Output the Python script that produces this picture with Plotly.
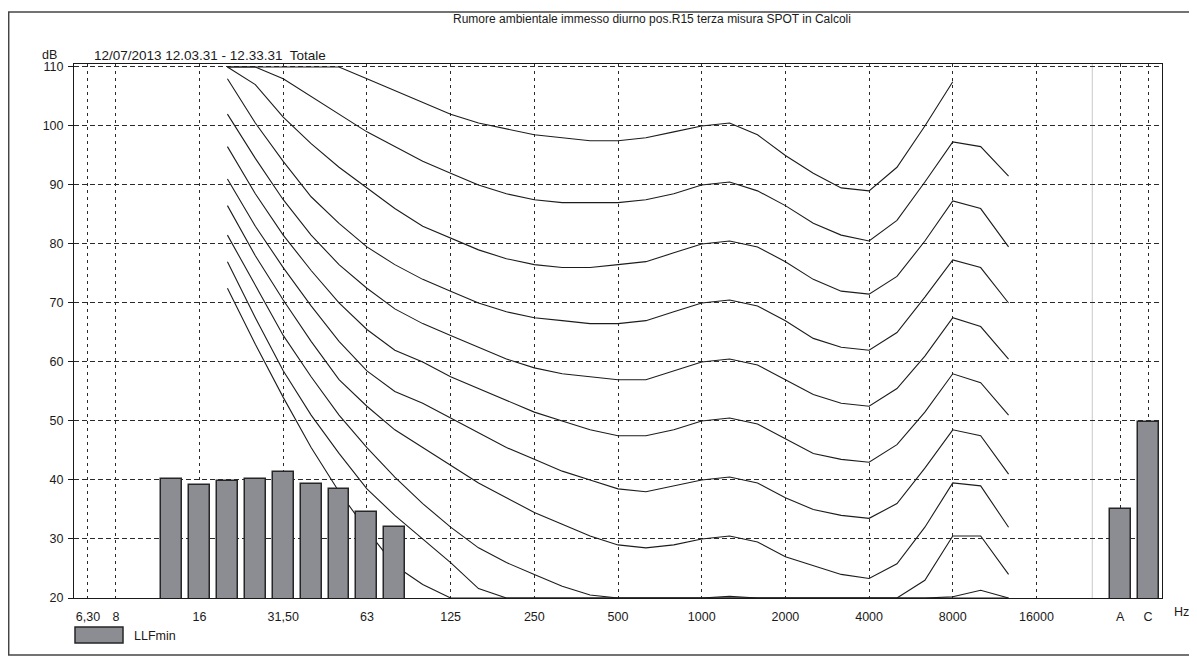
import plotly.graph_objects as go

# ---------------- data ----------------
# third-octave band centres (Hz); x position on the chart = index in this list
bands = [6.3, 8, 10, 12.5, 16, 20, 25, 31.5, 40, 50, 63, 80, 100, 125, 160, 200,
         250, 315, 400, 500, 630, 800, 1000, 1250, 1600, 2000, 2500, 3150, 4000,
         5000, 6300, 8000, 10000, 12500, 16000, 20000]
slot_A = 37
slot_C = 38
separator = 36

tick_bands = [6.3, 8, 16, 31.5, 63, 125, 250, 500, 1000, 2000, 4000, 8000, 16000]
tick_text = ["6,30", "8", "16", "31,50", "63", "125", "250", "500", "1000",
             "2000", "4000", "8000", "16000"]

# LLFmin spectrum (dB)
llf_bands = [12.5, 16, 20, 25, 31.5, 40, 50, 63, 80]
llf_values = [40.2, 39.1, 39.8, 40.1, 41.3, 39.3, 38.4, 34.5, 32.1]
level_A = 35.0
level_C = 49.9

# equal-loudness contours (dB), bands 20 Hz .. 12500 Hz
curve_bands = [20, 25, 31.5, 40, 50, 63, 80, 100, 125, 160, 200, 250, 315, 400,
               500, 630, 800, 1000, 1250, 1600, 2000, 2500, 3150, 4000, 5000,
               6300, 8000, 10000, 12500]
phon_0 = [72.5, 63, 54, 45.5, 38, 31.5, 25.5, 22.3, 19, 16, 13, 11, 9, 7.5, 6, 5, 4.5,
          4.2, 3.7, 2.6, 1, -1.2, -3.6, -3.9, -1.1, 6.6, 15.3, 16.4, 11.6]
phon_10 = [77, 67.5, 58.5, 51, 44.5, 38.5, 34, 30, 26, 21.6, 18, 16, 14.5, 13, 12, 11,
           10.5, 10, 10, 9, 7, 4.5, 2, 1.5, 4.5, 12, 20.2, 21.3, 19.5]
phon_20 = [81.5, 73, 64.5, 57.5, 51, 45.5, 40.5, 36, 32, 28.5, 26, 24, 22, 20.5, 19,
           18.5, 19, 20, 20.3, 19.5, 17, 15, 13, 12.5, 15, 23, 30.5, 30.5, 24]
phon_30 = [86.5, 78, 70.5, 63.5, 57, 52.5, 48.5, 45.5, 42.5, 39.5, 37, 34.5, 32.5, 30.5,
           29, 28.5, 29, 30, 30.5, 29.5, 27, 25.5, 24, 23.3, 25.8, 32, 39.5, 39, 32]
phon_40 = [91, 83, 76, 69.5, 63.5, 58.5, 55, 53, 50.5, 48, 45.5, 43.5, 41.5, 40, 38.5,
           38, 39, 40, 40.5, 39.5, 37, 35, 34, 33.5, 36, 42, 48.5, 47.5, 41]
phon_50 = [96.5, 88.5, 81.5, 75.5, 70, 65.5, 62, 60, 57.5, 55.5, 53.5, 51.5, 50, 48.5,
           47.5, 47.5, 48.5, 50, 50.5, 49.5, 47, 44.5, 43.5, 43, 46, 51.5, 58, 56.5, 51]
phon_60 = [102, 94.5, 87.5, 81.5, 76.5, 72.5, 69, 66.5, 64.5, 62.5, 60.5, 59, 58, 57.5,
           57, 57, 58.5, 60, 60.5, 59.5, 57, 54.5, 53, 52.5, 55.5, 61, 67.5, 66, 60.5]
phon_70 = [108, 100.5, 94, 88, 83.5, 79.5, 76.5, 74, 72, 70, 68.5, 67.5, 67, 66.5, 66.5,
           67, 68.5, 70, 70.5, 69.5, 67, 64, 62.5, 62, 65, 71, 77.3, 76, 70]
phon_80 = [113, 107, 101.5, 97, 93, 89.5, 86, 83, 81, 79, 77.5, 76.5, 76, 76, 76.5, 77,
           78.5, 80, 80.5, 79.5, 77, 74, 72, 71.5, 74.5, 80.5, 87.3, 86, 79.5]
phon_90 = [118, 112.5, 108, 105, 102, 99, 96.5, 94, 92, 90, 88.5, 87.5, 87, 87,
           87, 87.5, 88.5, 90, 90.5, 89, 86.5, 83.5, 81.5, 80.5, 84, 90.5, 97.3, 96.5, 91.5]
phon_100 = [126, 121, 117, 113.5, 110.3, 108, 106, 104, 102, 100.5, 99.5, 98.5, 98,
            97.5, 97.5, 98, 99, 100, 100.5, 98.5, 95, 92, 89.5, 89, 93, 100, 107.5]
curves = [phon_0, phon_10, phon_20, phon_30, phon_40, phon_50, phon_60, phon_70,
          phon_80, phon_90, phon_100]

title_text = "Rumore ambientale immesso diurno pos.R15 terza misura SPOT in Calcoli"
period_text = "12/07/2013 12.03.31 - 12.33.31  Totale"

# ---------------- figure ----------------
# the page body adds an 8 px offset, so figure coordinates are page coordinates - 8
OFF = 8
W, H = 1181, 648
ML, MT = 66, 56
PW, PH = 1088, 534
MR, MB = W - ML - PW, H - MT - PH
FONT = "Liberation Sans, Arial, sans-serif"
Y_MIN, Y_MAX = 20, 110.5


def pos(f):
    return bands.index(f)


def px(x):
    return (x - OFF - ML) / PW


def py(y):
    return (MT + PH - (y - OFF)) / PH


fig = go.Figure()

for c in curves:
    xs = [pos(f) for f in curve_bands[:len(c)]]
    ys = [min(max(v, Y_MIN), 110) for v in c]
    fig.add_trace(go.Scatter(x=xs, y=ys, mode="lines",
                             line=dict(color="#1c1c1c", width=1.1),
                             showlegend=False, hoverinfo="skip"))

bar_x = [pos(f) for f in llf_bands] + [slot_A, slot_C]
bar_y = llf_values + [level_A, level_C]
fig.add_trace(go.Bar(x=bar_x, y=bar_y, width=0.75, name="LLFmin",
                     xaxis="x2", yaxis="y2",
                     marker=dict(color="#8b8d92", line=dict(color="#262626", width=1.5)),
                     showlegend=False, hoverinfo="skip"))

xr = [-0.5, 38.5]
yr = [Y_MIN, Y_MAX]
fig.update_layout(
    width=W, height=H,
    margin=dict(l=ML, r=MR, t=MT, b=MB),
    paper_bgcolor="white", plot_bgcolor="white",
    font=dict(family=FONT, size=12, color="#1a1a1a"),
    bargap=0,
    xaxis=dict(range=xr, tickmode="array",
               tickvals=[pos(f) for f in tick_bands] + [slot_A, slot_C],
               ticktext=tick_text + ["A", "C"],
               showgrid=True, gridcolor="#2a2a2a", gridwidth=1, griddash="3px,4px",
               showline=True, linecolor="#1a1a1a", linewidth=1, mirror=True,
               zeroline=False, ticks="", ticklabelstandoff=7,
               tickfont=dict(size=12.5)),
    yaxis=dict(range=yr, tickmode="array", tickvals=list(range(20, 111, 10)),
               showgrid=True, gridcolor="#2a2a2a", gridwidth=1, griddash="5px,3px",
               showline=True, linecolor="#1a1a1a", linewidth=1, mirror=True,
               zeroline=False, ticks="outside", ticklen=5, tickcolor="#1a1a1a",
               ticklabelstandoff=2, tickfont=dict(size=12.5)),
    xaxis2=dict(range=xr, overlaying="x", visible=False),
    yaxis2=dict(range=yr, overlaying="y", visible=False),
)

# separator between spectrum and weighted totals
fig.add_shape(type="line", xref="x", yref="paper", x0=separator, x1=separator,
              y0=0, y1=1, line=dict(color="#c8c8c8", width=1), layer="below")

# page frame (scanned sheet border)
fig.add_shape(type="line", xref="paper", yref="paper", x0=px(8), x1=px(W + 8), y0=py(12),
              y1=py(12), line=dict(color="#444", width=1.5))
fig.add_shape(type="line", xref="paper", yref="paper", x0=px(8.7), x1=px(8.7), y0=py(12),
              y1=py(655), line=dict(color="#444", width=1.5))
fig.add_shape(type="line", xref="paper", yref="paper", x0=px(8), x1=px(W + 8), y0=py(655),
              y1=py(655), line=dict(color="#444", width=1.5))

# legend swatch
fig.add_shape(type="rect", xref="paper", yref="paper", x0=px(75), x1=px(123),
              y0=py(643), y1=py(627), fillcolor="#8b8d92",
              line=dict(color="#262626", width=1.5))

ann = [
    dict(text=title_text, x=px(652), y=py(19), xanchor="center", size=12),
    dict(text="dB", x=px(59), y=py(55), xanchor="right", size=12.5),
    dict(text=period_text, x=px(92), y=py(55), xanchor="left", size=13.5),
    dict(text="Hz", x=px(1172), y=py(612), xanchor="left", size=12.5),
    dict(text="LLFmin", x=px(132), y=py(636), xanchor="left", size=12.5),
]
for a in ann:
    fig.add_annotation(text=a["text"], x=a["x"], y=a["y"], xref="paper", yref="paper",
                       xanchor=a["xanchor"], yanchor="middle", showarrow=False,
                       font=dict(family=FONT, size=a["size"], color="#1a1a1a"))

fig.write_html("out.html")
